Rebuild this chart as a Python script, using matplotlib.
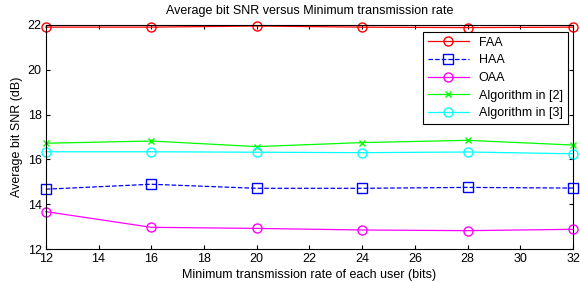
import matplotlib
matplotlib.use("Agg")
import matplotlib.pyplot as plt

plt.rcParams['font.family'] = ['Liberation Sans', 'DejaVu Sans']

rates = [12, 16, 20, 24, 28, 32]
faa = [21.9, 21.9, 21.95, 21.9, 21.88, 21.9]
haa = [14.67, 14.89, 14.71, 14.71, 14.75, 14.72]
oaa = [13.67, 12.97, 12.92, 12.85, 12.82, 12.88]
alg2 = [16.72, 16.82, 16.57, 16.75, 16.85, 16.64]
alg3 = [16.34, 16.34, 16.32, 16.30, 16.33, 16.25]

fig = plt.figure(figsize=(5.8, 2.83), dpi=100)
ax = fig.add_axes([0.079, 0.12, 0.909, 0.792])

ax.plot(rates, faa, '-', color='#ff0000', marker='o', mfc='none', ms=6.5, lw=0.9, label='FAA', clip_on=False)
ax.plot(rates, haa, '--', color='#0000ff', marker='s', mfc='none', ms=6.5, lw=0.9, label='HAA', clip_on=False)
ax.plot(rates, oaa, '-', color='#ff00ff', marker='o', mfc='none', ms=6.5, lw=0.9, label='OAA', clip_on=False)
ax.plot(rates, alg2, '-', color='#00ff00', marker='x', ms=4, lw=0.9, label='Algorithm in [2]', clip_on=False)
ax.plot(rates, alg3, '-', color='#00ffff', marker='o', mfc='none', ms=6.5, lw=0.9, label='Algorithm in [3]', clip_on=False)

ax.set_xlim(12, 32)
ax.set_ylim(12, 22)
ax.set_xticks(range(12, 33, 2))
ax.set_yticks(range(12, 23, 2))
ax.tick_params(direction='in', top=True, right=True, labelsize=9, length=3, pad=3)
for s in ax.spines.values():
    s.set_linewidth(0.8)

ax.set_title('Average bit SNR versus Minimum transmission rate', fontsize=9, pad=8)
ax.set_xlabel('Minimum transmission rate of each user (bits)', fontsize=9, labelpad=3)
ax.set_ylabel('Average bit SNR (dB)', fontsize=9, labelpad=3)

leg = ax.legend(loc='upper right', bbox_to_anchor=(0.99, 0.969), fontsize=9, fancybox=False,
                edgecolor='black', framealpha=1, handlelength=3.3, handletextpad=0.8,
                borderpad=0.4, labelspacing=0.45, borderaxespad=0)
leg.get_frame().set_linewidth(0.8)

fig.savefig('out.png', dpi=100)
